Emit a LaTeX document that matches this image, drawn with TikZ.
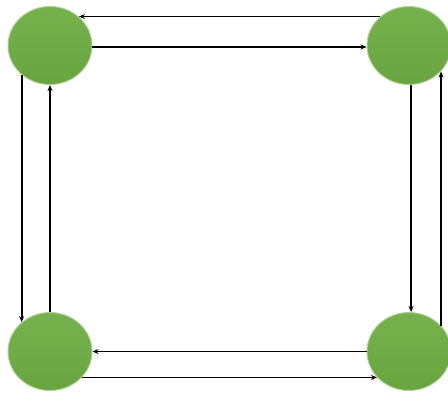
\documentclass[tikz,border=0pt]{standalone}
\usetikzlibrary{shapes.geometric,arrows.meta}
\definecolor{grn}{RGB}{112,173,71}
\definecolor{grnlight}{RGB}{118,178,76}
\definecolor{grndark}{RGB}{104,164,64}
\tikzset{
  dot/.style={ellipse, minimum width=84pt, minimum height=78pt, inner sep=0pt,
    top color=grnlight, bottom color=grndark, draw=grn!55!white, line width=1pt},
  link/.style={line width=1.8pt, -{Stealth[length=6pt,width=5pt]}}
}
\begin{document}
\begin{tikzpicture}[x=1pt,y=-1pt]
\useasboundingbox (0,0) rectangle (448,392);
\node[dot] (tl) at (50,45.5) {};
\node[dot] (tr) at (409,45.5) {};
\node[dot] (bl) at (50,351.5) {};
\node[dot] (br) at (409,351.5) {};
% top pair
\draw[link] (tr.135) -- (tl.45);
\draw[link] (tl.-2) -- (tr.182);
% left pair
\draw[link] (tl.226) -- (bl.134);
\draw[link] (bl.north) -- (tl.south);
% right pair
\draw[link] (tr.-87) -- (br.87);
\draw[link] (br.39) -- (tr.-39);
% bottom pair
\draw[link] (br.west) -- (bl.east);
\draw[link] (bl.-39) -- (br.219);
\end{tikzpicture}
\end{document}
